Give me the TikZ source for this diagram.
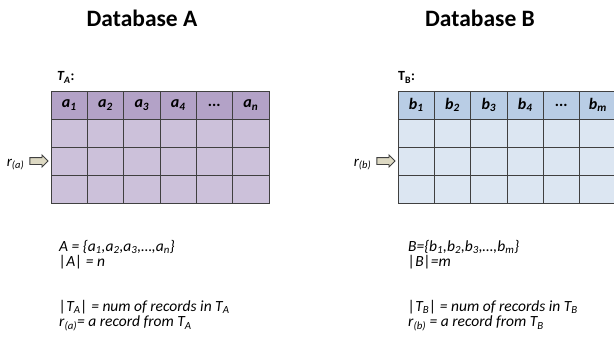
\documentclass[tikz,border=0pt]{standalone}
\usepackage{fontspec}
\setmainfont{Carlito}
\usetikzlibrary{shapes.arrows,positioning}
\definecolor{purplehead}{HTML}{B3A2C7}
\definecolor{purplebody}{HTML}{CCC1DA}
\definecolor{bluehead}{HTML}{B9CDE5}
\definecolor{bluebody}{HTML}{DCE6F2}
\definecolor{gridline}{HTML}{404040}
\definecolor{arrowfill}{HTML}{DDD9C3}
\tikzset{
  title/.style={font=\fontsize{23.5}{28}\selectfont\bfseries, anchor=base, inner sep=0pt},
  tabname/.style={font=\fontsize{14}{16}\selectfont\bfseries, anchor=base west, inner sep=0pt},
  headcell/.style={draw=gridline, line width=0.9pt, minimum width=36.33pt, minimum height=28pt, inner sep=0pt, font=\fontsize{16}{18}\selectfont\bfseries\itshape},
  bodycell/.style={draw=gridline, line width=0.9pt, minimum width=36.33pt, minimum height=28pt, inner sep=0pt},
  recarrow/.style={single arrow, draw=black!75, fill=arrowfill, line width=0.9pt, minimum height=18pt, inner sep=3pt, single arrow head extend=2.5pt, single arrow head indent=0pt},
  reclabel/.style={font=\fontsize{15}{17}\selectfont\itshape, anchor=base east, inner sep=0pt},
  notes/.style={font=\fontsize{15.5}{15.5}\selectfont\itshape, align=left, anchor=north west, inner sep=0pt},
}
\begin{document}
\begin{tikzpicture}[x=1pt, y=-1pt]
  \useasboundingbox (0,0) rectangle (614,337);
  \clip (0,0) rectangle (614,337);

  % titles
  \node[title] (titleA) at (142,27) {Database A};
  \node[title] (titleB) at (480,27) {Database B};

  % table A
  \node[tabname] (nameA) at (57,81) {\textit{T\textsubscript{A}}:};
  \foreach \i/\lab in {1/1,2/2,3/3,4/4,6/n}
    \node[headcell, fill=purplehead] (ha\i) at ({51+36.33*(\i-0.5)},105) {a\textsubscript{\lab}};
  \node[headcell, fill=purplehead] (ha5) at ({51+36.33*4.5},105) {...};
  \foreach \i in {1,...,6}
    \foreach \j in {1,2,3}
      \node[bodycell, fill=purplebody] (ca\i\j) at ({51+36.33*(\i-0.5)},{105+28*\j}) {};
  \node[recarrow, left=2pt of ca12.west] (arrA) {};
  \node[reclabel] (recA) at ([xshift=-5pt, yshift=-5pt]arrA.west) {r\textsubscript{(a)}};

  % table B
  \node[tabname] (nameB) at (398,81) {T\textsubscript{B}:};
  \foreach \i/\lab in {1/1,2/2,3/3,4/4,6/m}
    \node[headcell, fill=bluehead] (hb\i) at ({398+36.33*(\i-0.5)},105) {b\textsubscript{\lab}};
  \node[headcell, fill=bluehead] (hb5) at ({398+36.33*4.5},105) {...};
  \foreach \i in {1,...,6}
    \foreach \j in {1,2,3}
      \node[bodycell, fill=bluebody] (cb\i\j) at ({398+36.33*(\i-0.5)},{105+28*\j}) {};
  \node[recarrow, left=2pt of cb12.west] (arrB) {};
  \node[reclabel] (recB) at ([xshift=-5pt, yshift=-5pt]arrB.west) {r\textsubscript{(b)}};

  % definitions
  \node[notes] (defA) at (59,240) {A = \{a\textsubscript{1},a\textsubscript{2},a\textsubscript{3},…,a\textsubscript{n}\}\\
    |A| = n\\[29pt]
    |T\textsubscript{A}| = num of records in T\textsubscript{A}\\
    r\textsubscript{(a)}= a record from T\textsubscript{A}};
  \node[notes] (defB) at (408,240) {B=\{b\textsubscript{1},b\textsubscript{2},b\textsubscript{3},…,b\textsubscript{m}\}\\
    |B|=m\\[29pt]
    |T\textsubscript{B}| = num of records in T\textsubscript{B}\\
    r\textsubscript{(b)} = a record from T\textsubscript{B}};
\end{tikzpicture}
\end{document}
